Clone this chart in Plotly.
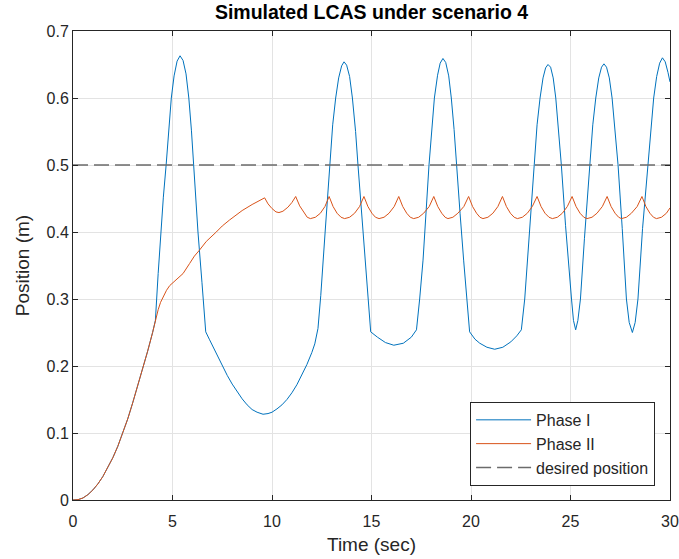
import plotly.graph_objects as go

# ---------------- data ----------------
t_shared = [0.0, 0.25, 0.5, 0.75, 1.0, 1.25, 1.5, 1.75, 2.0, 2.25, 2.5, 2.75, 3.0, 3.25, 3.5,
            3.75, 4.0, 4.14]
y_shared = [0.000, 0.0005, 0.003, 0.008, 0.015, 0.024, 0.035, 0.048, 0.063, 0.080, 0.099, 0.121,
            0.145, 0.170, 0.195, 0.222, 0.250, 0.268]

t_phase1 = [4.28, 4.41, 4.54, 4.68, 4.81, 4.94, 5.08, 5.23, 5.38, 5.53, 5.68, 5.82, 5.95, 6.06,
            6.17, 6.28, 6.48, 6.67, 6.85, 7.0, 7.25, 7.5, 7.75, 8.0, 8.25, 8.5, 8.75, 9.0, 9.25,
            9.55, 9.8, 10.0, 10.25, 10.5, 10.75, 11.0, 11.25, 11.5, 11.75, 12.0, 12.15, 12.31,
            12.45, 12.67, 12.9, 13.05, 13.2, 13.35, 13.5, 13.62, 13.75, 13.9, 14.04, 14.2, 14.32,
            14.50, 14.66, 14.81, 14.96, 15.3, 15.7, 16.12, 16.6, 17.0, 17.26, 17.42, 17.59, 17.89,
            18.05, 18.16, 18.32, 18.45, 18.59, 18.73, 18.88, 19.01, 19.15, 19.27, 19.45, 19.63,
            19.80, 19.93, 20.2, 20.44, 20.8, 21.19, 21.6, 22.0, 22.3, 22.53, 22.70, 22.92, 23.17,
            23.32, 23.47, 23.62, 23.75, 23.87, 24.0, 24.13, 24.26, 24.4, 24.54, 24.75, 24.92,
            25.05, 25.15, 25.26, 25.37, 25.5, 25.7, 25.97, 26.12, 26.27, 26.42, 26.56, 26.68,
            26.81, 26.95, 27.09, 27.24, 27.39, 27.60, 27.81, 27.95, 28.11, 28.25, 28.39, 28.62,
            28.9, 29.04, 29.18, 29.33, 29.48, 29.62, 29.76, 29.9, 30.0]
y_phase1 = [0.338, 0.400, 0.452, 0.500, 0.552, 0.600, 0.633, 0.655, 0.663, 0.656, 0.636, 0.600, 0.552, 0.500,
            0.450, 0.400, 0.325, 0.251, 0.240, 0.231, 0.215, 0.200, 0.186, 0.173, 0.161, 0.151, 0.142, 0.135, 0.131,
            0.128, 0.129, 0.131, 0.136, 0.142, 0.150, 0.160, 0.172, 0.186, 0.202, 0.220, 0.233, 0.256,
            0.305, 0.400, 0.500, 0.560, 0.600, 0.630, 0.648, 0.654, 0.649, 0.632, 0.600, 0.550, 0.500,
            0.428, 0.358, 0.300, 0.251, 0.243, 0.235, 0.231, 0.234, 0.243, 0.254, 0.300, 0.358, 0.500,
            0.565, 0.600, 0.634, 0.652, 0.659, 0.653, 0.633, 0.600, 0.553, 0.500, 0.428, 0.358,
            0.300, 0.251, 0.240, 0.234, 0.228, 0.225, 0.228, 0.236, 0.245, 0.254, 0.300, 0.395, 0.500,
            0.560, 0.600, 0.630, 0.645, 0.650, 0.646, 0.630, 0.600, 0.555, 0.500, 0.410, 0.340,
            0.300, 0.268, 0.254, 0.268, 0.300, 0.390, 0.500, 0.560, 0.600, 0.630, 0.646, 0.651,
            0.646, 0.630, 0.600, 0.555, 0.500, 0.405, 0.300, 0.265, 0.250, 0.265, 0.300, 0.405,
            0.500, 0.558, 0.600, 0.632, 0.652, 0.660, 0.654, 0.638, 0.624]

t_phase2 = [4.28, 4.4, 4.53, 4.7, 4.86, 5.2, 5.53, 5.86, 6.1, 6.33, 6.7, 7.2, 7.5, 7.87, 8.2, 8.5,
            9.0, 9.3, 9.63, 9.8, 10.0, 10.2, 10.35, 10.55, 10.8, 11.0, 11.19, 11.39, 11.59, 11.77, 11.93,
            12.18, 12.43, 12.66, 12.87, 13.07, 13.27, 13.47, 13.65,
            13.9, 14.15, 14.4, 14.62, 14.82, 15.02, 15.2, 15.38,
            15.63, 15.88, 16.14, 16.37, 16.57, 16.77, 16.95, 17.12,
            17.37, 17.62, 17.9, 18.13, 18.33, 18.53, 18.7, 18.84,
            19.09, 19.34, 19.64, 19.88, 20.08, 20.28, 20.45, 20.6,
            20.85, 21.1, 21.35, 21.58, 21.78, 21.98, 22.17, 22.33,
            22.58, 22.83, 23.08, 23.32, 23.52, 23.72, 23.92, 24.09,
            24.34, 24.59, 24.84, 25.08, 25.28, 25.48, 25.67, 25.83,
            26.08, 26.33, 26.6, 26.84, 27.04, 27.24, 27.42, 27.56,
            27.81, 28.06, 28.35, 28.59, 28.79, 28.99, 29.17, 29.32,
            29.57, 29.82, 30.0]
y_phase2 = [0.284, 0.295, 0.303, 0.313, 0.320, 0.329, 0.338, 0.353, 0.364, 0.372, 0.386, 0.400, 0.409,
            0.418, 0.426, 0.432, 0.441, 0.446, 0.451, 0.442, 0.435, 0.430, 0.429, 0.431, 0.437, 0.444,
            0.453, 0.439, 0.429, 0.422, 0.420,
            0.422, 0.428, 0.438, 0.453, 0.438, 0.428, 0.422, 0.420,
            0.422, 0.428, 0.438, 0.453, 0.438, 0.428, 0.422, 0.420,
            0.422, 0.428, 0.438, 0.453, 0.438, 0.428, 0.422, 0.420,
            0.422, 0.428, 0.438, 0.453, 0.438, 0.428, 0.422, 0.420,
            0.422, 0.428, 0.438, 0.453, 0.438, 0.428, 0.422, 0.420,
            0.422, 0.428, 0.438, 0.453, 0.438, 0.428, 0.422, 0.420,
            0.422, 0.428, 0.438, 0.453, 0.438, 0.428, 0.422, 0.420,
            0.422, 0.428, 0.438, 0.453, 0.438, 0.428, 0.422, 0.420,
            0.422, 0.428, 0.438, 0.453, 0.438, 0.428, 0.422, 0.420,
            0.422, 0.428, 0.438, 0.453, 0.438, 0.428, 0.422, 0.420,
            0.422, 0.428, 0.436]

t_desired = [0, 30]
y_desired = [0.5, 0.5]

x_ticks = [0, 5, 10, 15, 20, 25, 30]
y_ticks = [0, 0.1, 0.2, 0.3, 0.4, 0.5, 0.6, 0.7]
y_tick_labels = ["0", "0.1", "0.2", "0.3", "0.4", "0.5", "0.6", "0.7"]

# ---------------- figure ----------------
FONT = "Liberation Sans, Arial, Helvetica, sans-serif"
DARK = "#262626"

fig = go.Figure()
fig.add_trace(go.Scatter(x=t_shared + t_phase1, y=y_shared + y_phase1, mode="lines",
                         name="Phase I", line=dict(color="#0072BD", width=1.0)))
fig.add_trace(go.Scatter(x=t_shared + t_phase2, y=y_shared + y_phase2, mode="lines",
                         name="Phase II", line=dict(color="#D95319", width=1.0)))
fig.add_trace(go.Scatter(x=t_desired, y=y_desired, mode="lines",
                         name="desired position",
                         line=dict(color="#6b6b6b", width=1.6, dash="15px,6px")))

axis_common = dict(showline=True, linecolor=DARK, linewidth=1, mirror="ticks",
                   ticks="inside", ticklen=5, tickcolor=DARK, tickwidth=1,
                   showgrid=True, gridcolor="#e3e3e3", gridwidth=1, zeroline=False,
                   automargin=False,
                   tickfont=dict(family=FONT, size=16, color=DARK))

fig.update_xaxes(range=[0, 30], tickvals=x_ticks, ticklabelstandoff=7,
                 title=dict(text="Time (sec)", font=dict(family=FONT, size=19, color=DARK), standoff=8),
                 **axis_common)
fig.update_yaxes(range=[0, 0.7], tickvals=y_ticks, ticktext=y_tick_labels,
                 title=dict(text="Position (m)", font=dict(family=FONT, size=19, color=DARK), standoff=11),
                 **axis_common)

fig.update_layout(
    width=679, height=559,
    margin=dict(l=73, r=9, t=31, b=59),
    paper_bgcolor="white", plot_bgcolor="white",
    title=dict(text="<b>Simulated LCAS under scenario 4</b>", x=0.5, xref="paper", xanchor="center",
               y=0.978, yanchor="middle", font=dict(family=FONT, size=19.5, color="black")),
    legend=dict(x=0.975, y=0.03, xanchor="right", yanchor="bottom",
                bgcolor="white", bordercolor=DARK, borderwidth=1,
                font=dict(family=FONT, size=16, color=DARK),
                itemwidth=55, tracegroupgap=0),
    showlegend=True,
)

fig.write_html("out.html")
